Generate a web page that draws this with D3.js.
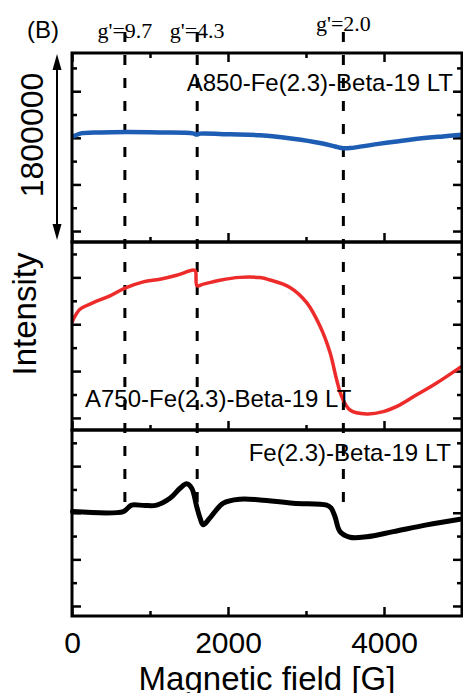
<!DOCTYPE html>
<html>
<head>
<meta charset="utf-8">
<script src="https://cdn.jsdelivr.net/npm/d3@7"></script>
<style>
  body { margin: 0; background: #fff; }
  svg { display: block; }
  .tick line { stroke: #000; stroke-width: 2.5; }
  .tick text { font-family: "Liberation Sans", Arial, sans-serif; font-size: 30px; fill: #000; }
</style>
</head>
<body>
<script>
// field axis (G)
var fieldTicks = [0, 2000, 4000];
var fieldMinor = [1000, 3000];
var gLines = [678, 1605, 3479];
var gLabels = ["g'=9.7", "g'=4.3", "g'=2.0"];

// A850 (blue, top panel), intensity a.u.
var a850Field = [17, 103, 359, 701, 1128, 1551, 1599, 1641, 2026, 2410, 2833, 3179, 3372, 3458, 3564, 3906, 4333, 4756, 4996];
var a850Int = [4.06, 4.18, 4.23, 4.25, 4.23, 4.19, 4.14, 4.18, 4.15, 4.11, 3.96, 3.78, 3.63, 3.56, 3.56, 3.73, 3.92, 4.06, 4.13];

// A750 (red, middle panel)
var a750Field = [6, 17, 103, 273, 487, 679, 914, 1128, 1342, 1555, 1583, 1603, 1683, 1897, 2154, 2410, 2538, 2795, 3009, 3179, 3308, 3393, 3458, 3564, 3778, 3991, 4205, 4419, 4675, 4996];
var a750Int = [4.12, 4.21, 4.64, 4.92, 5.21, 5.54, 5.81, 5.92, 6.09, 6.31, 6.27, 5.64, 5.71, 5.88, 6.00, 5.99, 5.89, 5.57, 4.92, 3.92, 2.79, 1.63, 0.91, 0.34, 0.17, 0.27, 0.56, 0.99, 1.49, 2.20];

// Fe(2.3) parent (black, bottom panel)
var feField = [6, 658, 718, 765, 936, 1086, 1256, 1385, 1470, 1535, 1599, 1641, 1683, 1769, 1940, 2154, 2410, 2837, 3265, 3320, 3372, 3436, 3564, 3778, 4119, 4547, 4974];
var feInt = [4.05, 4.05, 4.21, 4.33, 4.31, 4.33, 4.62, 5.05, 5.24, 5.05, 4.26, 3.78, 3.48, 3.78, 4.41, 4.58, 4.55, 4.41, 4.33, 4.21, 3.83, 3.19, 2.95, 2.97, 3.19, 3.48, 3.72];

var intTicks = [0, 2, 4, 6];
var intMinor = [1, 3, 5, 7];

var panelNames = ["A850-Fe(2.3)-Beta-19 LT", "A750-Fe(2.3)-Beta-19 LT", "Fe(2.3)-Beta-19 LT"];
var panelDomains = [[-0.47, 7.64], [-0.515, 7.51], [-0.43, 7.55]];

var width = 463, height = 693;
var left = 72, right = 462;
var panelTops = [53, 242, 430];
var panelBottoms = [242, 430, 616];
var colors = ["#1d5db3", "#ee2b2b", "#000000"];
var strokeW = [4.5, 3.5, 5];

var svg = d3.select("body").append("svg")
    .attr("width", width).attr("height", height);

var x = d3.scaleLinear().domain([0, 5000]).range([left, right]);

var series = [
  a850Field.map(function(f, i) { return [f, a850Int[i]]; }),
  a750Field.map(function(f, i) { return [f, a750Int[i]]; }),
  feField.map(function(f, i) { return [f, feInt[i]]; })
];

// dashed g' lines (behind curves)
svg.selectAll(".gline")
    .data(gLines)
  .enter().append("line")
    .attr("class", "gline")
    .attr("x1", function(d) { return x(d); })
    .attr("x2", function(d) { return x(d); })
    .attr("y1", 32).attr("y2", 503)
    .attr("stroke", "#000")
    .attr("stroke-width", 3)
    .attr("stroke-dasharray", "10,13");

var labelY = [38, 38, 31];
svg.selectAll(".glab")
    .data(gLines)
  .enter().append("text")
    .attr("x", function(d) { return x(d); })
    .attr("y", function(d, i) { return labelY[i]; })
    .attr("text-anchor", "middle")
    .style("font-family", "'Liberation Serif', 'Times New Roman', serif")
    .style("font-size", "22px")
    .text(function(d, i) { return gLabels[i]; });

panelTops.forEach(function(top, p) {
  var bottom = panelBottoms[p];
  var y = d3.scaleLinear().domain(panelDomains[p]).range([bottom, top]);
  var g = svg.append("g");

  function addAxis(axis) {
    var a = g.append("g").call(axis);
    a.select(".domain").remove();
    return a;
  }

  // major (9px) and minor (5px) ticks, all pointing inward
  [[intTicks, fieldTicks, 9], [intMinor, fieldMinor, 5]].forEach(function(t) {
    addAxis(d3.axisLeft(y).tickValues(t[0]).tickSize(-t[2]).tickFormat(""))
      .attr("transform", "translate(" + left + ",0)");
    addAxis(d3.axisRight(y).tickValues(t[0]).tickSize(-t[2]).tickFormat(""))
      .attr("transform", "translate(" + right + ",0)");
    addAxis(d3.axisBottom(x).tickValues(t[1])
        .tickSize(-t[2]).tickPadding(16)
        .tickFormat(p === 2 && t[2] === 9 ? d3.format("d") : ""))
      .attr("transform", "translate(0," + bottom + ")");
    if (p === 0) {
      addAxis(d3.axisTop(x).tickValues(t[1]).tickSize(-t[2]).tickFormat(""))
        .attr("transform", "translate(0," + top + ")");
    }
  });

  var line = d3.line()
      .x(function(d) { return x(d[0]); })
      .y(function(d) { return y(d[1]); })
      .curve(d3.curveCatmullRom.alpha(0.5));

  g.append("path")
      .datum(series[p])
      .attr("fill", "none")
      .attr("stroke", colors[p])
      .attr("stroke-width", strokeW[p])
      .attr("stroke-linejoin", "round")
      .attr("stroke-linecap", "round")
      .attr("d", line);

  g.append("rect")
      .attr("x", left).attr("y", top)
      .attr("width", right - left).attr("height", bottom - top)
      .attr("fill", "none")
      .attr("stroke", "#000")
      .attr("stroke-width", 3);
});

// panel names
var nameX = [453, 85, 451];
var nameY = [91, 407, 461];
var nameAnchor = ["end", "start", "end"];
svg.selectAll(".pname")
    .data(panelNames)
  .enter().append("text")
    .attr("x", function(d, i) { return nameX[i]; })
    .attr("y", function(d, i) { return nameY[i]; })
    .attr("text-anchor", function(d, i) { return nameAnchor[i]; })
    .style("font-family", "'Liberation Sans', Arial, sans-serif")
    .style("font-size", "24px")
    .text(function(d) { return d; });

// (B)
svg.append("text")
    .attr("x", 27).attr("y", 38)
    .style("font-family", "'Liberation Sans', Arial, sans-serif")
    .style("font-size", "24px")
    .text("(B)");

// scale bar arrow
var ax = 57, ay1 = 54, ay2 = 240;
svg.append("line")
    .attr("x1", ax).attr("x2", ax)
    .attr("y1", ay1 + 10).attr("y2", ay2 - 10)
    .attr("stroke", "#000").attr("stroke-width", 2);
svg.append("path")
    .attr("d", "M" + ax + "," + ay1 + "L" + (ax - 4.5) + "," + (ay1 + 16) + "L" + (ax + 4.5) + "," + (ay1 + 16) + "Z")
    .attr("fill", "#000");
svg.append("path")
    .attr("d", "M" + ax + "," + ay2 + "L" + (ax - 4.5) + "," + (ay2 - 16) + "L" + (ax + 4.5) + "," + (ay2 - 16) + "Z")
    .attr("fill", "#000");

svg.append("text")
    .attr("transform", "translate(43,135) rotate(-90)")
    .attr("text-anchor", "middle")
    .style("font-family", "'Liberation Sans', Arial, sans-serif")
    .style("font-size", "32px")
    .text("1800000");

svg.append("text")
    .attr("transform", "translate(36,314) rotate(-90)")
    .attr("text-anchor", "middle")
    .style("font-family", "'Liberation Sans', Arial, sans-serif")
    .style("font-size", "33px")
    .text("Intensity");

// axis title sits on the bottom edge, clipped as in the original
svg.append("text")
    .attr("x", (left + right) / 2).attr("y", 690)
    .attr("text-anchor", "middle")
    .style("font-family", "'Liberation Sans', Arial, sans-serif")
    .style("font-size", "33px")
    .text("Magnetic field [G]");
</script>
</body>
</html>
